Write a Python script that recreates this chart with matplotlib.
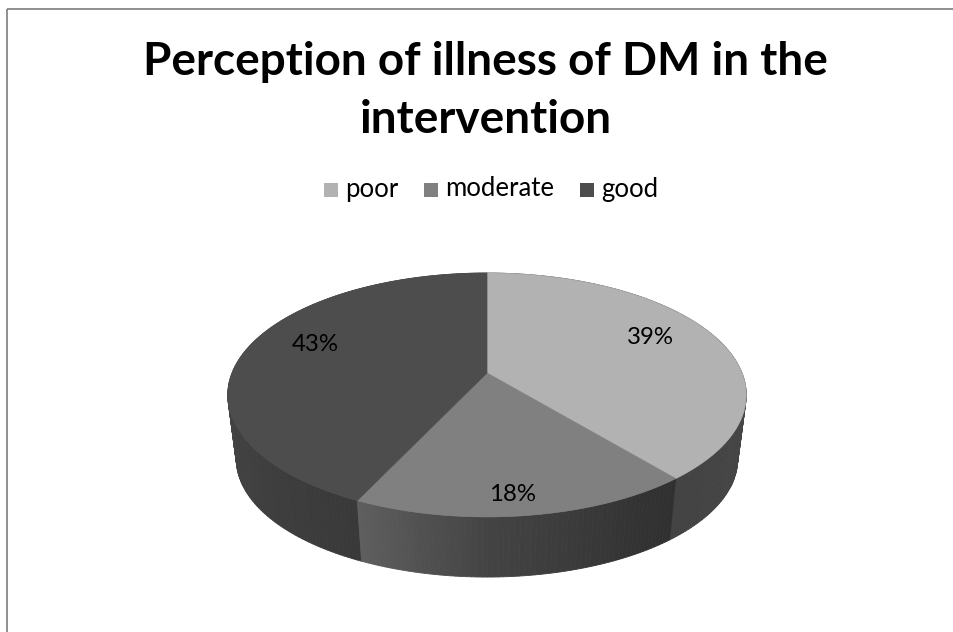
import numpy as np
import matplotlib
matplotlib.use("Agg")
import matplotlib.pyplot as plt
from matplotlib.patches import Polygon, Rectangle

# ---- data ----
categories = ["poor", "moderate", "good"]
values = [39, 18, 43]
value_labels = ["39%", "18%", "43%"]
colors = ["#B2B2B2", "#808080", "#4D4D4D"]
title_lines = ["Perception of illness of DM in the", "intervention"]

FONT = "Lato"
W, H = 954, 632
fig = plt.figure(figsize=(W / 100, H / 100), dpi=100)
ax = fig.add_axes([0, 0, 1, 1])
ax.set_xlim(0, W)
ax.set_ylim(H, 0)
ax.axis("off")
renderer = fig.canvas.get_renderer()


def fit_size(text, target_px, weight="normal", boost=1.04):
    t = fig.text(0, 0, text, fontsize=10, family=FONT, weight=weight)
    w = t.get_window_extent(renderer).width
    t.remove()
    return 10 * target_px / w * boost


# ---- 3-D pie projection (pixel space) ----
CX, CY = 487.0, 373.0      # projected pie centre
RX, RY = 255.0, 118.0      # radii of the top face
PERSP = 0.18               # perspective foreshortening
VP_Y = 2340.0              # vanishing point of the vertical walls
DEPTH_SCALE = 0.967        # bottom face scale toward vanishing point


def top_pt(phi, r=1.0):
    X, Z = r * np.sin(phi), r * np.cos(phi)
    d = 1 + PERSP * Z
    return CX + RX * X / d, CY - RY * Z / d


def bottom_pt(phi):
    x, y = top_pt(phi)
    return CX + DEPTH_SCALE * (x - CX), VP_Y - DEPTH_SCALE * (VP_Y - y)


# side-wall lighting as a function of angle (degrees, clockwise from top)
shade_ang = [0, 90, 140, 150, 180, 205, 240, 270, 360]
shade_val = [0.40, 0.40, 0.375, 0.40, 0.53, 0.74, 0.83, 0.95, 0.95]


def shade(hex_color, f):
    rgb = np.array(matplotlib.colors.to_rgb(hex_color))
    return tuple(np.clip(rgb * f, 0, 1))


total = float(sum(values))
bounds = np.concatenate([[0], np.cumsum(values)]) / total * 2 * np.pi

# side walls: small quads, far ones first
quads = []
for i, c in enumerate(colors):
    a0, a1 = bounds[i], bounds[i + 1]
    n = max(int(np.degrees(a1 - a0)), 2)
    edges = np.linspace(a0, a1, n + 1)
    for p0, p1 in zip(edges[:-1], edges[1:]):
        pm = 0.5 * (p0 + p1)
        f = np.interp(np.degrees(pm), shade_ang, shade_val)
        pts = [top_pt(p0), top_pt(p1), bottom_pt(p1), bottom_pt(p0)]
        quads.append((np.cos(pm), pts, shade(c, f)))
quads.sort(key=lambda q: -q[0])
for _, pts, col in quads:
    ax.add_patch(Polygon(pts, closed=True, facecolor=col, edgecolor=col,
                         lw=0.6, zorder=2))

# top faces
for i, c in enumerate(colors):
    arc = np.linspace(bounds[i], bounds[i + 1], 200)
    pts = [(CX, CY)] + [top_pt(p) for p in arc]
    ax.add_patch(Polygon(pts, closed=True, facecolor=c, edgecolor=c,
                         lw=0.5, zorder=3))

# value labels
LBL_R, LBL_A, LBL_K, LBL_CY = 0.72, 102.8, 0.64, 356.6
lbl_size = fit_size("39%", 45)
for i, txt in enumerate(value_labels):
    mid = 0.5 * (bounds[i] + bounds[i + 1])
    x = top_pt(mid, 0.71)[0]
    rz = LBL_R * np.cos(mid)
    y = LBL_CY - LBL_A * rz / (1 + LBL_K * rz)
    ax.text(x, y + 9, txt, ha="center", va="baseline", fontsize=lbl_size,
            family=FONT, color="black", zorder=5)

# title
t_size = fit_size(title_lines[0], 659, weight="bold")
for line, base in zip(title_lines, [75, 133]):
    ax.text(485.5, base, line, ha="center", va="baseline", fontsize=t_size,
            family=FONT, weight="bold", color="black")

# legend
leg_size = fit_size("moderate", 105)
sq, gap, spacing = 14, 7, 26
widths = []
for name in categories:
    t = fig.text(0, 0, name, fontsize=leg_size, family=FONT)
    widths.append(t.get_window_extent(renderer).width)
    t.remove()
total_w = sum(sq + gap + w for w in widths) + spacing * (len(categories) - 1)
x = 491 - total_w / 2
for name, c, w in zip(categories, colors, widths):
    ax.add_patch(Rectangle((x, 182.5), sq, sq, facecolor=c, edgecolor="none"))
    ax.text(x + sq + gap, 196.5, name, ha="left", va="baseline",
            fontsize=leg_size, family=FONT, color="black")
    x += sq + gap + w + spacing

# chart-area border
ax.add_patch(Rectangle((7, 8.5), W + 10, H + 10, fill=False,
                       edgecolor="#878787", lw=1.3, zorder=6))

fig.savefig("out.png", dpi=100)
